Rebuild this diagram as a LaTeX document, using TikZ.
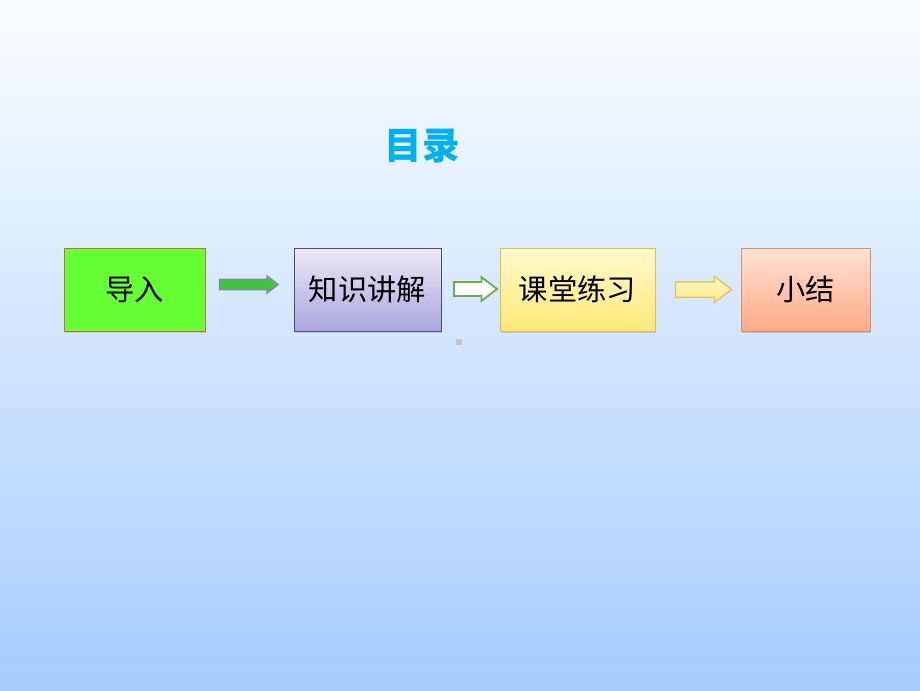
\documentclass[tikz,border=0pt]{standalone}
\usepackage{fontspec}
\newfontfamily\cjk{Noto Sans CJK SC}
\usepackage{tikz}
\usetikzlibrary{shapes.arrows}
\usetikzlibrary{shadows}

\definecolor{bgtop}{RGB}{251,253,255}
\definecolor{bgmid}{RGB}{220,235,255}
\definecolor{bgbot}{RGB}{166,205,255}
\definecolor{titleblue}{RGB}{0,176,240}

\begin{document}
\begin{tikzpicture}[x=0.03cm,y=-0.03cm,
  box/.style={rectangle,draw,line width=0.8pt,minimum height=2.49cm,inner sep=0pt,
    font=\cjk\fontsize{25pt}{30pt}\selectfont,text=black,
    drop shadow={shadow xshift=1pt,shadow yshift=-1.5pt,opacity=0.3}},
  blockarrow/.style={single arrow,inner xsep=0pt,line width=1.6pt,single arrow tip angle=75}]

  % background
  \fill[top color=bgtop,middle color=bgmid,bottom color=bgbot] (0,0) rectangle (920,690);

  \node[font=\cjk\bfseries\fontsize{32pt}{38pt}\selectfont,text=titleblue] (T) at (422,146) {目录};

  \node[box,minimum width=4.23cm,fill={rgb,255:red,102;green,255;blue,51},
    draw={rgb,255:red,205;green,110;blue,60}] (A) at (134.5,289.5) {导入};
  \node[box,minimum width=4.41cm,draw={rgb,255:red,80;green,72;blue,140},
    top color={rgb,255:red,236;green,233;blue,246},bottom color={rgb,255:red,170;green,165;blue,222}] (B) at (367.5,289.5) {知识讲解};
  \node[box,minimum width=4.65cm,draw={rgb,255:red,232;green,192;blue,60},
    top color={rgb,255:red,255;green,250;blue,205},bottom color={rgb,255:red,255;green,232;blue,120}] (C) at (577.5,289.5) {课堂练习};
  \node[box,minimum width=3.87cm,draw={rgb,255:red,222;green,140;blue,110},
    top color={rgb,255:red,255;green,226;blue,212},bottom color={rgb,255:red,255;green,170;blue,135}] (D) at (805.5,289.5) {小结};

  % arrows between the boxes
  \node[blockarrow,minimum height=1.74cm,inner ysep=0.12cm,single arrow head extend=0.09cm,
    fill={rgb,255:red,60;green,200;blue,60},draw={rgb,255:red,125;green,145;blue,145}] (AB) at (245.5,284.5) {};
  \node[blockarrow,minimum height=1.29cm,inner ysep=0.18cm,single arrow head extend=0.15cm,
    fill=white,draw={rgb,255:red,112;green,173;blue,71}] (BC) at (471,289) {};
  \node[blockarrow,minimum height=1.68cm,inner ysep=0.21cm,single arrow head extend=0.165cm,
    top color={rgb,255:red,255;green,250;blue,205},bottom color={rgb,255:red,255;green,230;blue,120},
    draw={rgb,255:red,228;green,196;blue,100},line width=1.2pt] (CD) at (698.5,289.5) {};

  \fill[gray!45] (456,339) rectangle (462,345);
\end{tikzpicture}
\end{document}
